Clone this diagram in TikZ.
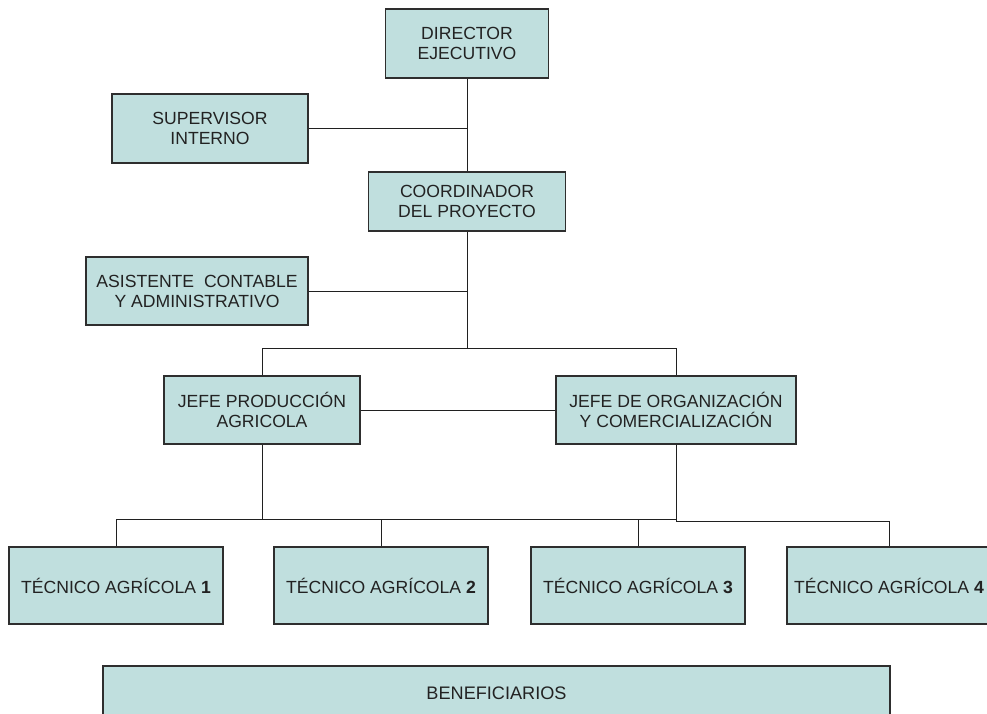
\documentclass[tikz,border=0pt]{standalone}
\usepackage{fontspec}
\setmainfont{Liberation Sans}
\definecolor{boxfill}{HTML}{C0DFDE}
\definecolor{boxline}{HTML}{2E2E2E}
\definecolor{wire}{HTML}{202020}
\definecolor{ink}{HTML}{222222}
\begin{document}
\begin{tikzpicture}[x=0.75pt,y=-0.75pt,
  orgbox/.style={draw=boxline, fill=boxfill, line width=0.9pt, inner sep=0pt,
    align=center, text=ink, font=\fontsize{13.2}{15}\selectfont},
  boxsize/.style n args={2}{minimum width=0.75pt*#1, minimum height=0.75pt*#2},
  wirestyle/.style={draw=wire, line width=0.75pt}]
\useasboundingbox (0,0) rectangle (987,713);
\clip (0,0) rectangle (987,713);

% management boxes
\node[orgbox, boxsize={163}{69}] (dir) at (467,43.5) {DIRECTOR\\EJECUTIVO};
\node[orgbox, boxsize={196}{69}] (sup) at (210,128.5) {SUPERVISOR\\INTERNO};
\node[orgbox, boxsize={197}{59}] (coord) at (467,201.5) {COORDINADOR\\DEL PROYECTO};
\node[orgbox, boxsize={222}{68}] (asis) at (197,291) {ASISTENTE~ CONTABLE\\Y ADMINISTRATIVO};
\node[orgbox, boxsize={196}{68}] (jprod) at (262,410) {JEFE PRODUCCIÓN\\AGRICOLA};
\node[orgbox, boxsize={240}{68}] (jorg) at (676,410) {JEFE DE ORGANIZACIÓN\\Y COMERCIALIZACIÓN};

% field technicians
\node[orgbox, boxsize={214}{77}] (t1) at (116,585.5) {TÉCNICO AGRÍCOLA \textbf{1}};
\node[orgbox, boxsize={214}{77}] (t2) at (381,585.5) {TÉCNICO AGRÍCOLA \textbf{2}};
\node[orgbox, boxsize={214}{77}] (t3) at (638,585.5) {TÉCNICO AGRÍCOLA \textbf{3}};
\node[orgbox, boxsize={204}{77}] (t4) at (889,585.5) {TÉCNICO AGRÍCOLA \textbf{4}};

% beneficiaries
\node[orgbox, boxsize={787}{55}, font=\fontsize{13.6}{16}\selectfont] (ben) at (496.5,693.5) {BENEFICIARIOS};

% branching points
\coordinate (split) at (467,348);
\coordinate (lb) at (262,519);
\coordinate (rb) at (676,521);

% connectors
\draw[wirestyle] (dir.south) -- (coord.north);
\draw[wirestyle] (sup.east) -- (dir.south |- sup.east);
\draw[wirestyle] (coord.south) -- (split);
\draw[wirestyle] (asis.east) -- (coord.south |- asis.east);
\draw[wirestyle] (jprod.north) |- (jorg.north |- split) -- (jorg.north);
\draw[wirestyle] (jprod.east) -- (jorg.west);
\draw[wirestyle] (jprod.south) -- (lb);
\draw[wirestyle] (t1.north) |- (rb |- lb);
\draw[wirestyle] (t2.north) -- (t2.north |- lb);
\draw[wirestyle] (t3.north) -- (t3.north |- lb);
\draw[wirestyle] (jorg.south) |- (t4.north |- rb) -- (t4.north);
\end{tikzpicture}
\end{document}
